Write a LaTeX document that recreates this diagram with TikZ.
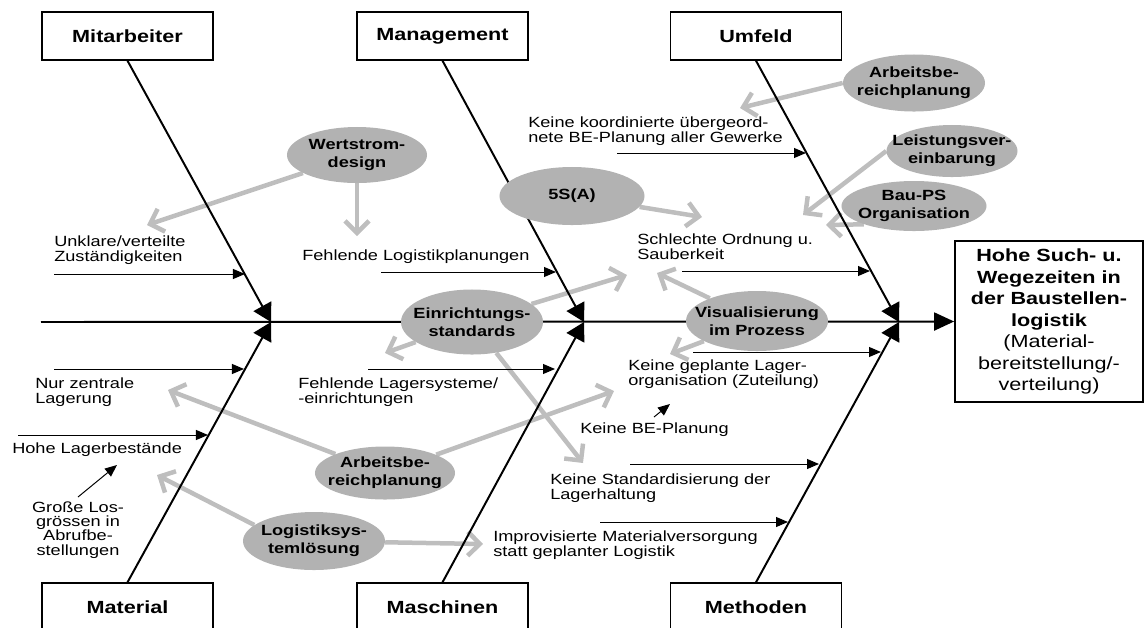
\documentclass[tikz,border=0pt]{standalone}
\usepackage{fontspec}
\setmainfont[FakeStretch=1.23]{Liberation Sans}
\usepackage{xcolor}
\usepackage{tikz}
\usetikzlibrary{shapes.geometric, arrows.meta, backgrounds}

\definecolor{ovalgray}{RGB}{178,178,178}
\definecolor{hintgray}{RGB}{190,190,190}

\begin{document}
\begin{tikzpicture}[
  x=0.025cm, y=-0.025cm,
  cat/.style={draw, line width=1pt, minimum width=4.275cm,
              minimum height=1.2cm, align=center, fill=white,
              font=\bfseries\fontsize{12.5}{14}\selectfont},
  effect/.style={draw, line width=1.2pt, minimum width=4.7cm,
                 minimum height=4.025cm, align=center, inner sep=0pt,
                 font=\fontsize{12.5}{15.3}\selectfont},
  oval/.style={ellipse, fill=ovalgray, inner xsep=-0.6cm,
               inner ysep=-0.2cm, align=center,
               font=\bfseries\fontsize{10.5}{12.8}\selectfont},
  cause/.style={anchor=west, inner sep=0pt, align=left,
                font=\fontsize{10.5}{10.7}\selectfont},
  spine/.style={line width=1.4pt, -{Triangle[length=0.5cm, width=0.45cm]}},
  bone/.style={line width=1.4pt, -{Triangle[length=0.45cm, width=0.5cm]}},
  sub/.style={line width=0.7pt, -{Triangle[length=0.3cm, width=0.25cm]}},
  hint/.style={draw=hintgray, line width=3.2pt,
               -{Straight Barb[length=0.3cm, width=0.6cm]}}
]
\useasboundingbox (0,0) rectangle (1147,627);

% categories and effect
\node[cat] (mit) at (127.5,36) {Mitarbeiter};
\node[cat] (man) at (442.5,36) {Management};
\node[cat] (umf) at (756,36) {Umfeld};
\node[cat] (mat) at (127.5,607) {Material};
\node[cat] (msc) at (442.5,607) {Maschinen};
\node[cat] (mth) at (756,607) {Methoden};
\node[effect] (eff) at (1049,321.5)
    {\textbf{Hohe Such- u.}\\\textbf{Wegezeiten in}\\
     \textbf{der Baustellen-}\\\textbf{logistik}\\
     (Material-\\bereitstellung/-\\verteilung)};

% measures (grey ovals)
\node[oval, minimum width=3.5cm, minimum height=1.4cm]
    (ws) at (357,155) {Wertstrom-\\design};
\node[oval, minimum width=3.625cm, minimum height=1.45cm]
    (s5) at (572,196) {5S(A)};
\node[oval, minimum width=3.55cm, minimum height=1.425cm]
    (abA) at (914,83) {Arbeitsbe-\\reichplanung};
\node[oval, minimum width=3.275cm, minimum height=1.3cm]
    (lv) at (952,151) {Leistungsver-\\einbarung};
\node[oval, minimum width=3.625cm, minimum height=1.25cm]
    (bps) at (914,206) {Bau-PS\\Organisation};
\node[oval, minimum width=3.55cm, minimum height=1.625cm]
    (es) at (472,322) {Einrichtungs-\\standards};
\node[oval, minimum width=3.55cm, minimum height=1.5cm]
    (vis) at (757,321) {Visualisierung\\im Prozess};
\node[oval, minimum width=3.5cm, minimum height=1.325cm]
    (abB) at (385,473) {Arbeitsbe-\\reichplanung};
\node[oval, minimum width=3.55cm, minimum height=1.45cm]
    (ls) at (314,541) {Logistiksys-\\temlösung};

% causes
\node[cause] (unk) at (54,250) {Unklare/verteilte\\Zuständigkeiten};
\node[cause] (nzl) at (35,392) {Nur zentrale\\Lagerung};
\node[cause] (hlb) at (12,450) {Hohe Lagerbestände};
\node[cause, anchor=center, align=center,
      font=\fontsize{10.5}{10.2}\selectfont] (glg) at (78,530)
    {Große Los-\\grössen in\\Abrufbe-\\stellungen};
\node[cause] (flp) at (302,257) {Fehlende Logistikplanungen};
\node[cause] (fls) at (298,392) {Fehlende Lagersysteme/\\-einrichtungen};
\node[cause] (kkb) at (528,131)
    {Keine koordinierte übergeord-\\nete BE-Planung aller Gewerke};
\node[cause] (sos) at (637,247) {Schlechte Ordnung u.\\Sauberkeit};
\node[cause] (kgl) at (628,374) {Keine geplante Lager-\\organisation (Zuteilung)};
\node[cause] (kbe) at (580,430) {Keine BE-Planung};
\node[cause] (ksl) at (550,488) {Keine Standardisierung der\\Lagerhaltung};
\node[cause] (imv) at (493,545)
    {Improvisierte Materialversorgung\\statt geplanter Logistik};

% spine and where the bones meet it
\coordinate (tail) at (41,322);
\coordinate (hA) at (271,322);
\coordinate (hB) at (584,322);
\coordinate (hC) at (899,322);

% sub-cause arrows: a = start, b = end on the bone
\coordinate (a1) at (54,274);   \coordinate (b1) at (245,274);
\coordinate (a2) at (54,369);   \coordinate (b2) at (244,369);
\coordinate (a3) at (18,435);   \coordinate (b3) at (208,435);
\coordinate (a4) at (381,272);  \coordinate (b4) at (556,272);
\coordinate (a5) at (368,369);  \coordinate (b5) at (555,369);
\coordinate (a6) at (617,153);  \coordinate (b6) at (806,153);
\coordinate (a7) at (682,271);  \coordinate (b7) at (870,271);
\coordinate (a8) at (693,352);  \coordinate (b8) at (881,352);
\coordinate (a9) at (630,464);  \coordinate (b9) at (819,464);
\coordinate (a10) at (600,522); \coordinate (b10) at (788,522);
\coordinate (a11) at (654,417); \coordinate (b11) at (670,404);
\coordinate (a12) at (78,497);  \coordinate (b12) at (117,465);
\foreach \i in {1,...,12}
  \draw[sub] (a\i) -- (b\i);

% tips of the grey arrows
\coordinate (t1) at (147,225);
\coordinate (t2) at (357,236);
\coordinate (t3) at (702,217);
\coordinate (t4) at (740,108);
\coordinate (t5) at (803,215);
\coordinate (t6) at (826,225);
\coordinate (t7) at (627,275);
\coordinate (t8) at (385,353);
\coordinate (t9) at (583,463);
\coordinate (t10) at (657,273);
\coordinate (t11) at (670,354);
\coordinate (t12) at (168,390);
\coordinate (t13) at (614,391);
\coordinate (t14) at (157,475);
\coordinate (t15) at (483,544);

\begin{pgfonlayer}{background}
  % grey arrows first, bones on top of them
  \draw[hint] (ws) -- (t1);
  \draw[hint] (ws) -- (t2);
  \draw[hint] (s5) -- (t3);
  \draw[hint] (abA.west) -- (t4);
  \draw[hint] (lv.west) -- (t5);
  \draw[hint] (bps.200) -- (t6);
  \draw[hint] (es) -- (t7);
  \draw[hint] (es) -- (t8);
  \draw[hint] (es) -- (t9);
  \draw[hint] (vis) -- (t10);
  \draw[hint] (vis) -- (t11);
  \draw[hint] (abB) -- (t12);
  \draw[hint] (abB) -- (t13);
  \draw[hint] (ls.165) -- (t14);
  \draw[hint] (ls) -- (t15);

  \draw[spine] (tail) -- (eff.west);
  \draw[bone] (mit.south) -- (hA);
  \draw[bone] (mat.north) -- (hA);
  \draw[bone] (man.south) -- (hB);
  \draw[bone] (msc.north) -- (hB);
  \draw[bone] (umf.south) -- (hC);
  \draw[bone] (mth.north) -- (hC);
\end{pgfonlayer}
\end{tikzpicture}
\end{document}
